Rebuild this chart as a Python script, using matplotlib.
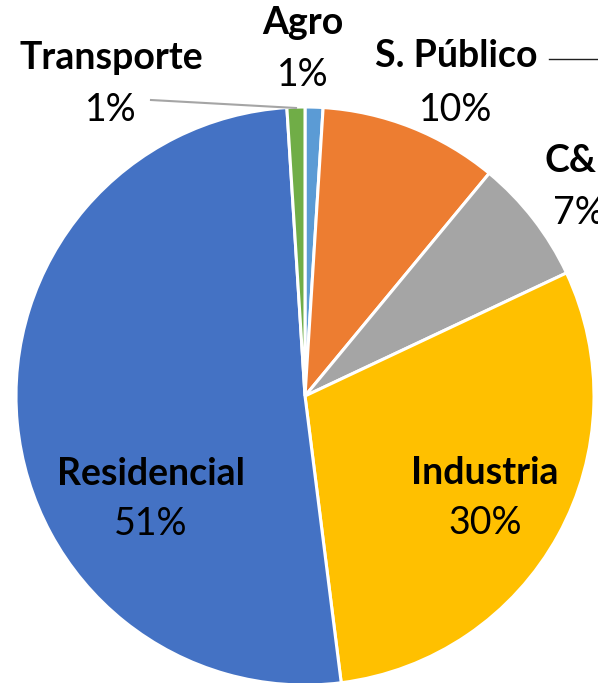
import matplotlib
matplotlib.use("Agg")
from matplotlib import pyplot as plt

plt.rcParams['font.family'] = ['Lato', 'DejaVu Sans']

# Sector data (clockwise from 12 o'clock)
sectors = ["Agro", "S. Público", "C&I", "Industria", "Residencial", "Transporte"]
shares = [1, 10, 7, 30, 51, 1]
colors = ["#5B9BD5", "#ED7D31", "#A5A5A5", "#FFC000", "#4472C4", "#70AD47"]

W, H = 598, 683

fig = plt.figure(figsize=(W / 100, H / 100), dpi=100)
ax = fig.add_axes([0, 0, 1, 1])

cx, cy, r = 305, H - 396, 289
ax.pie(shares, colors=colors, startangle=90, counterclock=False,
       center=(cx, cy), radius=r, frame=True,
       wedgeprops=dict(edgecolor='white', linewidth=2.2))
ax.set_xlim(0, W)
ax.set_ylim(0, H)
ax.set_aspect('equal')
ax.axis('off')


def label(x, y_name, y_pct, name, pct, ha='center', x_pct=None):
    # y values are text baselines in image pixels (from top)
    if x_pct is None:
        x_pct = x
    ax.text(x, H - y_name, name, fontsize=27, fontweight='bold', ha=ha, va='baseline')
    ax.text(x_pct, H - y_pct, pct, fontsize=27, ha=ha, va='baseline')


pct = {s: f"{v}%" for s, v in zip(sectors, shares)}
label(111, 69, 121, "Transporte", pct["Transporte"])
label(303, 34, 86, "Agro", pct["Agro"])
label(456, 67, 121, "S. Público", pct["S. Público"])
# the chart is cropped on the right, so this label runs off the edge
label(545, 172, 224, "C&I", pct["C&I"], ha='left', x_pct=553)
label(151, 485, 535, "Residencial", pct["Residencial"])
label(485, 484, 534, "Industria", pct["Industria"])

# leader lines
ax.plot([151, 296], [H - 100, H - 108], color='#A5A5A5', lw=1.5)
ax.plot([549, 598], [H - 59, H - 59], color='#202020', lw=1.0)

fig.savefig("out.png", dpi=100)
